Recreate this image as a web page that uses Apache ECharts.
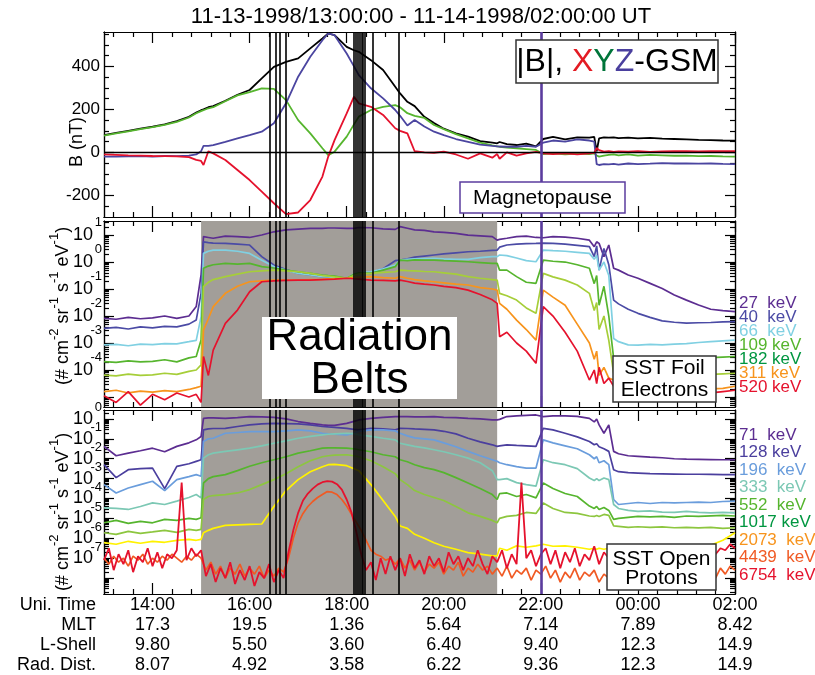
<!DOCTYPE html>
<html><head><meta charset="utf-8">
<script src="https://cdn.jsdelivr.net/npm/echarts@6/dist/echarts.min.js"></script>
<style>html,body{margin:0;padding:0;background:#fff}#c{width:815px;height:675px}</style>
</head><body><div id="c"></div>
<script>
const FONT = '"Liberation Sans", Arial, sans-serif';
// ---- time grids (hours after 11-13 00:00; 24+ = next day) ----
const T = [13.0,13.25,13.5,13.75,14.0,14.25,14.5,14.75,14.9,15.0,
15.05,15.15,15.25,15.5,15.75,16.0,16.25,16.5,16.75,17.0,
17.25,17.5,17.62,17.75,18.0,18.15,18.25,18.5,18.75,19.0,
19.1,19.25,19.4,19.6,19.8,20.0,20.25,20.5,20.75,21.0,
21.1,21.15,21.3,21.5,21.7,21.9,22.05,22.25,22.5,22.75,
23.0,23.1,23.15,23.2,23.3,23.4,23.5,23.6,23.8,24.0,
24.25,24.5,24.75,25.0,25.25,25.5,25.75,26.0];
const TF = [13.0,13.1,13.2,13.3,13.4,13.5,13.6,13.7,13.8,13.9,
14.0,14.1,14.2,14.3,14.4,14.5,14.6,14.7,14.8,14.9,
15.0,15.1,15.2,15.3,15.4,15.5,15.6,15.7,15.8,15.9,
16.0,16.1,16.2,16.3,16.4,16.5,16.6,16.7,16.8,16.9,
17.0,17.1,17.2,17.3,17.4,17.5,17.6,17.7,17.8,17.9,
18.0,18.1,18.2,18.3,18.4,18.5,18.6,18.7,18.8,18.9,
19.0,19.1,19.2,19.3,19.4,19.5,19.6,19.7,19.8,19.9,
20.0,20.1,20.2,20.3,20.4,20.5,20.6,20.7,20.8,20.9,
21.0,21.1,21.2,21.3,21.4,21.5,21.6,21.7,21.8,21.9,
22.0,22.1,22.2,22.3,22.4,22.5,22.6,22.7,22.8,22.9,
23.0,23.1,23.2,23.3,23.4,23.5,23.6,23.7,23.8,23.9,
24.0,24.1,24.2,24.3,24.4,24.5,24.6,24.7,24.8,24.9,
25.0,25.1,25.2,25.3,25.4,25.5,25.6,25.7,25.8,25.9,
26.0];

// ---- magnetic field (nT) ----
const B_MAG = [80,90,100,110,119,130,145,165,185,196,
200,210,215,240,268,290,344,398,421,437,
484,530,553,545,491,475,468,429,383,305,
274,235,215,165,136,110,88,73,52,45,
42,48,38,34,40,28,62,72,60,70,
68,72,5,65,70,68,70,66,68,65,
67,64,62,60,58,57,55,54];
const B_X = [-10,-12,-14,-15,-17,-18,-19,-22,-35,-40,
-59,5,-5,-36,-82,-129,-183,-237,-288,-280,
-222,-113,-20,57,181,259,228,212,174,112,
100,88,5,0,-2,3,-10,-30,-5,-25,
-8,-30,0,-15,-5,2,-5,-8,-5,-10,
-5,-3,20,10,3,5,2,4,3,5,
2,4,6,5,4,6,5,5];
const B_Y = [78,88,98,108,117,128,142,162,182,192,
196,205,210,238,265,280,298,295,243,150,
88,19,-13,3,73,130,166,197,212,220,
210,182,170,160,127,108,85,65,45,32,
28,26,22,19,15,11,-8,-5,-10,-6,
-8,-5,-15,-20,-15,-12,-10,-14,-10,-15,
-12,-14,-16,-15,-18,-17,-19,-20];
const B_Z = [-20,-20,-19,-18,-20,-17,-18,-15,-10,5,
30,30,34,49,65,80,96,135,228,352,
445,522,553,545,460,400,359,298,251,197,
170,125,150,120,96,80,62,49,36,30,
28,27,26,26,30,26,45,55,50,60,
55,50,-55,-59,-55,-56,-54,-57,-52,-55,
-53,-50,-52,-51,-53,-52,-54,-55];

// ---- SST foil electrons, log10 flux ----
const E27 = [-2.09,-2.12,-2.05,-2.10,-2.07,-2.00,-2.09,-2.00,-1.65,-0.48,
0.94,0.91,0.88,0.96,0.94,0.91,1.00,1.12,1.19,1.22,
1.25,1.25,1.26,1.26,1.25,1.25,1.28,1.27,1.23,1.21,
1.31,1.25,1.19,1.17,1.12,1.10,1.06,1.00,0.97,0.94,
0.81,0.84,0.88,0.94,0.96,0.91,0.90,0.94,0.92,0.88,
0.81,0.57,0.75,0.69,0.20,0.63,-0.23,-0.30,-0.48,-0.60,
-0.79,-0.98,-1.22,-1.41,-1.59,-1.75,-1.80,-1.84];
const E40 = [-2.46,-2.42,-2.48,-2.40,-2.44,-2.38,-2.40,-2.30,-2.15,-1.16,
0.75,0.72,0.70,0.69,0.66,0.63,0.20,-0.11,-0.28,-0.42,
-0.48,-0.54,-0.56,-0.58,-0.60,-0.50,-0.42,-0.40,-0.25,0.05,
0.07,0.12,0.18,0.22,0.26,0.30,0.34,0.38,0.40,0.43,
0.44,0.55,0.63,0.66,0.68,0.69,0.70,0.69,0.66,0.62,
0.57,0.20,0.60,-0.30,0.50,-0.10,-1.41,-1.55,-1.75,-1.90,
-2.05,-2.18,-2.23,-2.26,-2.25,-2.24,-2.22,-2.21];
const E66 = [-3.07,-3.05,-3.10,-3.04,-3.06,-3.02,-3.03,-2.95,-2.90,-2.02,
0.32,0.40,0.44,0.44,0.40,0.32,0.07,-0.17,-0.30,-0.42,
-0.48,-0.54,-0.55,-0.57,-0.60,-0.45,-0.40,-0.36,-0.25,-0.11,
0.07,0.10,0.12,0.13,0.14,0.12,0.10,0.10,0.16,0.20,
0.20,0.26,0.24,0.15,0.05,0.01,0.44,0.42,0.40,0.36,
0.32,0.10,0.25,-0.30,0.00,-0.50,-2.83,-2.95,-3.07,-3.08,
-3.05,-3.07,-3.04,-3.02,-2.98,-2.95,-2.92,-2.89];
const E109 = [-3.69,-3.72,-3.66,-3.70,-3.68,-3.62,-3.70,-3.55,-3.50,-2.89,
-0.23,-0.15,-0.10,-0.05,-0.08,-0.05,-0.17,-0.22,-0.30,-0.36,
-0.42,-0.48,-0.50,-0.52,-0.60,-0.45,-0.40,-0.42,-0.30,-0.17,
0.07,0.05,0.08,0.07,0.07,0.05,0.03,0.01,-0.02,-0.05,
-0.05,-0.30,-0.30,-0.54,-0.75,-0.79,0.07,0.03,0.00,-0.10,
-0.23,-0.80,-0.50,-1.60,-0.90,-2.00,-3.57,-3.62,-3.65,-3.63,
-3.62,-3.60,-3.58,-3.57,-3.55,-3.54,-3.52,-3.50];
const E182 = [-4.19,-4.22,-4.15,-4.20,-4.18,-4.12,-4.16,-4.05,-4.00,-3.81,
-0.91,-0.75,-0.65,-0.54,-0.45,-0.36,-0.33,-0.30,-0.33,-0.36,
-0.42,-0.50,-0.52,-0.55,-0.60,-0.50,-0.45,-0.42,-0.38,-0.36,
-0.30,-0.32,-0.33,-0.35,-0.36,-0.40,-0.45,-0.54,-0.60,-0.65,
-0.67,-1.16,-1.25,-1.41,-1.70,-1.90,-0.42,-0.55,-0.67,-0.85,
-1.16,-1.80,-1.50,-2.50,-2.00,-2.90,-4.12,-4.18,-4.20,-4.22,
-4.20,-4.21,-4.18,-4.17,-4.15,-4.16,-4.14,-4.12];
const E311 = [-4.80,-4.75,-4.85,-4.78,-4.82,-4.76,-4.80,-4.72,-4.65,-4.60,
-2.52,-2.10,-1.65,-1.16,-0.90,-0.73,-0.70,-0.67,-0.67,-0.67,
-0.65,-0.64,-0.62,-0.62,-0.60,-0.58,-0.56,-0.54,-0.58,-0.60,
-0.54,-0.60,-0.65,-0.70,-0.73,-0.77,-0.82,-0.85,-0.95,-1.00,
-1.04,-1.53,-1.75,-2.15,-2.50,-2.89,-1.04,-1.30,-1.60,-2.30,
-3.00,-3.60,-3.30,-4.20,-3.90,-4.30,-4.37,-4.60,-4.80,-4.78,
-4.82,-4.80,-4.78,-4.80,-4.76,-4.70,-4.68,-4.60];
const E520 = [-4.95,-5.20,-4.80,-5.30,-4.90,-5.10,-4.85,-5.00,-4.90,-5.20,
-3.50,-4.20,-3.26,-2.27,-1.78,-1.10,-0.73,-0.70,-0.68,-0.67,
-0.67,-0.65,-0.64,-0.63,-0.60,-0.62,-0.63,-0.67,-0.68,-0.70,
-0.67,-0.72,-0.78,-0.82,-0.85,-0.90,-0.95,-1.04,-1.20,-1.40,
-1.53,-2.77,-2.60,-3.00,-3.30,-3.75,-1.65,-2.00,-2.60,-3.30,
-4.37,-4.00,-4.50,-3.90,-4.50,-4.30,-4.60,-4.90,-5.00,-4.95,
-5.05,-4.98,-5.00,-4.95,-4.90,-4.85,-4.80,-4.75];

// ---- SST open protons, log10 flux ----
const P71 = [-1.38,-1.85,-1.72,-1.60,-1.47,-1.65,-1.38,-1.20,-1.05,-0.88,
0.03,0.05,0.05,0.03,0.07,0.12,0.10,0.08,0.00,-0.13,
-0.22,-0.30,-0.32,-0.32,-0.22,-0.12,-0.05,0.03,0.08,0.12,
0.12,0.12,0.10,0.10,0.12,0.08,0.07,0.03,0.00,-0.05,
-0.05,-0.02,0.12,0.15,0.18,0.20,0.12,0.15,0.15,0.13,
0.03,-0.15,0.00,-0.30,-0.72,-0.30,-1.63,-1.75,-1.85,-1.88,
-1.92,-1.95,-2.00,-2.02,-2.03,-2.04,-2.05,-2.05];
const P128 = [-2.30,-2.95,-2.55,-2.50,-2.47,-3.50,-2.38,-2.25,-2.13,-2.05,
-0.55,-0.50,-0.48,-0.47,-0.38,-0.30,-0.25,-0.22,-0.23,-0.25,
-0.30,-0.38,-0.40,-0.42,-0.47,-0.52,-0.55,-0.47,-0.50,-0.55,
-0.47,-0.48,-0.50,-0.52,-0.55,-0.62,-0.75,-0.97,-1.15,-1.30,
-1.38,-1.35,-1.30,-1.33,-1.35,-1.38,-0.47,-0.55,-0.72,-0.90,
-1.13,-1.30,-1.25,-1.40,-1.50,-1.63,-2.55,-2.65,-2.70,-2.72,
-2.75,-2.76,-2.77,-2.78,-2.78,-2.79,-2.80,-2.80];
const P196 = [-3.30,-3.72,-3.47,-3.30,-3.13,-3.60,-3.05,-2.90,-2.80,-2.88,
-1.13,-1.00,-0.97,-0.72,-0.68,-0.64,-0.64,-0.64,-0.60,-0.55,
-0.60,-0.72,-0.75,-0.77,-0.80,-0.72,-0.62,-0.55,-0.55,-0.60,
-0.72,-0.85,-0.95,-1.00,-1.05,-1.20,-1.40,-1.63,-1.85,-2.05,
-2.13,-2.20,-2.30,-2.40,-2.47,-2.47,-1.05,-1.20,-1.35,-1.50,
-1.80,-2.00,-1.90,-2.20,-2.10,-2.30,-4.05,-4.30,-4.25,-4.20,
-4.25,-4.20,-4.22,-4.20,-4.18,-4.20,-4.15,-4.13];
const P333 = [-4.47,-4.50,-4.55,-4.40,-4.22,-4.30,-4.13,-3.95,-3.80,-3.97,
-1.97,-1.80,-1.72,-1.63,-1.55,-1.47,-1.35,-1.22,-1.10,-0.97,
-0.88,-0.80,-0.77,-0.75,-0.72,-0.74,-0.80,-0.88,-0.97,-1.05,
-1.22,-1.30,-1.38,-1.45,-1.55,-1.65,-1.80,-1.97,-2.20,-2.60,
-3.05,-3.05,-3.00,-3.20,-3.30,-3.38,-2.05,-2.20,-2.30,-2.50,
-2.97,-3.10,-3.00,-3.10,-2.97,-3.05,-4.30,-4.50,-4.60,-4.65,
-4.62,-4.68,-4.70,-4.65,-4.70,-4.72,-4.70,-4.72];
const P552 = [-5.22,-5.10,-5.25,-5.15,-5.22,-5.05,-5.10,-5.00,-5.05,-4.97,
-3.22,-3.00,-2.90,-2.80,-2.60,-2.38,-2.20,-2.05,-1.90,-1.72,
-1.60,-1.47,-1.45,-1.45,-1.47,-1.50,-1.55,-1.65,-1.80,-1.90,
-2.05,-2.15,-2.30,-2.45,-2.55,-2.70,-2.95,-3.22,-3.50,-3.80,
-4.05,-3.75,-3.72,-3.90,-3.80,-3.97,-3.22,-3.50,-3.75,-3.90,
-4.38,-4.50,-4.40,-4.55,-4.45,-4.60,-5.05,-5.00,-4.95,-4.90,
-4.92,-4.90,-4.95,-4.88,-4.90,-4.87,-4.85,-4.88];
const P1017 = [-5.72,-5.80,-5.65,-5.75,-5.68,-5.60,-5.70,-5.55,-5.60,-5.55,
-4.05,-3.90,-3.85,-3.80,-3.72,-3.55,-3.30,-3.05,-2.75,-2.40,
-2.10,-1.90,-1.85,-1.82,-1.80,-1.85,-1.90,-2.10,-2.40,-2.75,
-3.05,-3.30,-3.60,-3.80,-3.95,-4.10,-4.40,-4.72,-4.90,-5.10,
-5.22,-5.00,-4.90,-4.85,-4.70,-4.75,-4.22,-4.50,-4.70,-4.75,
-4.88,-4.90,-4.85,-4.90,-4.80,-4.85,-5.38,-5.40,-5.45,-5.42,
-5.45,-5.43,-5.47,-5.45,-5.48,-5.45,-5.50,-5.47];
const P2073 = [-6.22,-6.30,-6.15,-6.25,-6.15,-6.20,-6.10,-6.05,-6.10,-6.05,
-5.72,-5.60,-5.50,-5.35,-5.32,-5.30,-5.28,-4.40,-3.60,-3.05,
-2.65,-2.40,-2.30,-2.28,-2.35,-2.50,-2.60,-3.30,-4.10,-4.90,
-5.38,-5.50,-5.80,-6.00,-6.22,-6.40,-6.55,-6.72,-6.80,-6.88,
-6.88,-6.50,-6.60,-6.38,-6.45,-6.38,-6.30,-6.40,-6.38,-6.45,
-6.55,-6.50,-6.55,-6.50,-6.55,-6.50,-6.55,-6.50,-6.45,-6.50,
-6.45,-6.47,-6.45,-6.42,-6.40,-6.35,-6.10,-5.72];
const P4439 = [-7.0,-7.3,-6.9,-7.2,-7.0,-7.4,-6.9,-7.1,-6.8,-7.3,
-7.0,-7.2,-6.9,-7.1,-6.8,-7.0,-7.2,-6.9,-7.1,-6.8,
-7.0,-7.6,-7.2,-7.8,-7.4,-8.0,-7.5,-7.8,-7.3,-7.9,
-7.5,-7.8,-7.4,-8.0,-7.6,-7.9,-7.5,-7.7,-7.0,-6.0,
-5.22,-4.75,-4.4,-4.15,-3.95,-3.8,-3.65,-3.68,-3.8,-4.05,
-4.38,-4.8,-5.2,-5.6,-6.1,-6.6,-6.8,-6.9,-7.1,-7.0,
-7.3,-7.0,-7.5,-7.1,-7.6,-7.2,-7.7,-7.3,-7.5,-7.2,
-7.8,-7.4,-7.6,-7.2,-7.9,-7.5,-7.7,-7.3,-7.6,-7.4,
-7.8,-7.5,-7.9,-7.4,-8.0,-7.6,-7.8,-7.5,-8.1,-7.6,
-7.8,-7.4,-8.0,-7.6,-8.2,-7.7,-8.0,-7.5,-8.1,-7.7,
-7.9,-7.6,-8.2,-7.8,-8.0,-7.7,-8.3,-7.8,-8.0,-7.6,
-8.1,-7.8,-8.0,-7.7,-8.2,-7.8,-8.0,-7.6,-7.9,-7.7,
-8.0,-7.8,-8.1,-7.7,-7.9,-7.6,-8.0,-7.5,-7.8,-7.4,
-7.6];
const P6754 = [-7.1,-6.5,-7.6,-6.8,-7.3,-6.6,-7.7,-6.9,-7.2,-6.5,
-7.4,-6.7,-7.5,-6.8,-7.0,-6.6,-3.2,-7.1,-6.5,-6.9,
-6.6,-7.9,-7.3,-8.2,-7.5,-8.0,-7.2,-8.3,-7.6,-8.1,
-7.4,-8.4,-7.7,-8.0,-7.3,-8.2,-7.6,-8.0,-6.7,-5.6,
-4.72,-4.1,-3.75,-3.5,-3.3,-3.18,-3.13,-3.15,-3.28,-3.55,
-4.05,-4.7,-5.7,-6.8,-7.6,-7.2,-8.1,-7.0,-7.8,-6.9,
-7.6,-7.0,-7.9,-6.8,-7.5,-7.1,-7.8,-6.9,-7.4,-7.0,
-7.7,-6.7,-7.3,-6.9,-7.6,-7.0,-7.4,-6.6,-7.3,-7.8,
-6.9,-7.2,-6.6,-7.5,-6.8,-7.3,-3.2,-7.0,-6.6,-7.4,
-6.8,-6.5,-7.3,-6.6,-7.5,-6.7,-7.2,-6.5,-7.4,-6.8,
-7.1,-6.4,-7.3,-6.7,-7.0,-6.5,-7.2,-6.6,-7.1,-6.7,
-6.9,-6.5,-7.0,-6.6,-6.9,-6.5,-6.8,-6.4,-6.9,-6.6,
-6.8,-6.5,-6.9,-6.5,-6.7,-6.4,-6.8,-6.5,-6.6,-6.3,
-6.5];

// ---- events / labels ----
const BELT_START = 15.0, BELT_END = 21.1;
const MAGNETOPAUSE = 22.0;
const VLINES = [16.41,16.53,16.63,16.75,18.14,18.18,18.22,18.26,18.30,18.34,18.38,18.53,19.08];
const X_MAJOR = [14,16,18,20,22,24,26];
const X_MINOR = [13.2,13.6,14.4,14.8,15.2,15.6,16.4,16.8,17.2,17.6,18.4,18.8,19.2,19.6,20.4,20.8,21.2,21.6,22.4,22.8,23.2,23.6,24.4,24.8,25.2,25.6];
const UT_LAB = ['14:00','16:00','18:00','20:00','22:00','00:00','02:00'];
const MLT_LAB = ['17.3','19.5','1.36','5.64','7.14','7.89','8.42'];
const LSH_LAB = ['9.80','5.50','3.60','6.40','9.40','12.3','14.9'];
const RAD_LAB = ['8.07','4.92','3.58','6.22','9.36','12.3','14.9'];
const ROW_NAMES = ['Uni. Time','MLT','L-Shell','Rad. Dist.'];
const B_TICKS = [-200,0,200,400];
const B_MINOR = [-250,-150,-100,-50,50,100,150,250,300,350,450,500,550];
const E_MAJOR = [-5,-4,-3,-2,-1,0,1];
const E_LABELS = [-4,-3,-2,-1,0,1];
const P_MAJOR = [-8,-7,-6,-5,-4,-3,-2,-1,0];
const P_LABELS = [-7,-6,-5,-4,-3,-2,-1,0];
const E_NAMES = ['27  keV','40  keV','66  keV','109 keV','182 keV','311 keV','520 keV'];
const P_NAMES = ['71  keV','128 keV','196  keV','333  keV','552  keV','1017 keV','2073  keV','4439  keV','6754  keV'];

// ---- styling ----
const E_LINE = ['#5c2d91','#4b4ba5','#80d0e2','#56b52e','#a6ce39','#f7941d','#e5122d'];
const E_TEXT = ['#5c2d91','#4b4ba5','#80d0e2','#56b52e','#009640','#f7941d','#e5122d'];
const P_LINE = ['#5c2d91','#4b3f9e','#6a9ddc','#7cc8b4','#56b52e','#8dc63f','#fff200','#f05a24','#e5122d'];
const P_TEXT = ['#5c2d91','#4b3f9e','#6a9ddc','#7cc8b4','#56b52e','#009640','#f7941d','#f05a24','#e5122d'];
const GRAY = '#a29e99';
const MP_COLOR = '#5b3c9e';

function minorLog(lo, hi) {
  const out = [];
  for (let d = Math.floor(lo); d <= Math.ceil(hi); d++) {
    for (let k = 2; k <= 9; k++) { const v = d + Math.log10(k); if (v > lo && v < hi) out.push(v); }
  }
  return out;
}

const grids = [
  {left:104, right:80, top:32, height:185},
  {left:104, right:80, top:221, height:186},
  {left:104, right:80, top:410, height:185}
];
const AX = {color:'#000', width:1.2};
function xAxesFor(g, labels) {
  const base = {type:'value', gridIndex:g, min:13, max:26, splitLine:{show:false},
    axisLine:{show:true, onZero:false, lineStyle:AX}};
  const lab = labels ? {show:true, customValues:X_MAJOR, showMinLabel:true, showMaxLabel:true, margin:1, color:'#000', fontFamily:FONT, fontSize:18, lineHeight:20,
      formatter: v => { const i = X_MAJOR.indexOf(Math.round(v)); return i < 0 ? '' : [UT_LAB[i], MLT_LAB[i], LSH_LAB[i], RAD_LAB[i]].join('\n'); }}
    : {show:false};
  return [
    Object.assign({}, base, {position:'bottom', axisTick:{show:true, inside:true, length:11, customValues:X_MAJOR, lineStyle:AX}, axisLabel:lab}),
    Object.assign({}, base, {position:'bottom', axisTick:{show:true, inside:true, length:5, customValues:X_MINOR, lineStyle:AX}, axisLabel:{show:false}}),
    Object.assign({}, base, {position:'top', axisTick:{show:true, inside:true, length:11, customValues:X_MAJOR, lineStyle:AX}, axisLabel:{show:false}}),
    Object.assign({}, base, {position:'top', axisTick:{show:true, inside:true, length:5, customValues:X_MINOR, lineStyle:AX}, axisLabel:{show:false}})
  ];
}
// log panels: "10" labels on the major axis, exponents on the minor-tick axis placed slightly higher
function yAxesFor(g, min, max, maj, labs, minr, isLog, supShift) {
  const base = {type:'value', gridIndex:g, min, max, splitLine:{show:false},
    axisLine:{show:true, onZero:false, lineStyle:AX}};
  const lab = isLog
    ? {show:true, customValues:labs, showMinLabel:true, showMaxLabel:true, margin:11, color:'#000', fontFamily:FONT, fontSize:18, lineHeight:17, formatter: () => '10'}
    : {show:true, customValues:labs, showMinLabel:true, showMaxLabel:true, margin:4, color:'#000', fontFamily:FONT, fontSize:17, formatter: v => String(Math.round(v))};
  const supLab = isLog
    ? {show:true, customValues:labs.map(v => v + supShift).filter(v => v < max), showMinLabel:true, showMaxLabel:true, margin:2, color:'#000', fontFamily:FONT, fontSize:13, lineHeight:13,
       formatter: v => String(Math.round(v - supShift))}
    : {show:false};
  return [
    Object.assign({}, base, {position:'left', axisTick:{show:true, inside:true, length:10, customValues:maj, lineStyle:AX}, axisLabel:lab}),
    Object.assign({}, base, {position:'left', axisTick:{show:true, inside:true, length:5, customValues:minr, lineStyle:AX}, axisLabel:supLab}),
    Object.assign({}, base, {position:'right', axisTick:{show:true, inside:true, length:10, customValues:maj, lineStyle:AX}, axisLabel:{show:false}}),
    Object.assign({}, base, {position:'right', axisTick:{show:true, inside:true, length:5, customValues:minr, lineStyle:AX}, axisLabel:{show:false}})
  ];
}
const E_MIN = -5.37, E_MAX = 1.52, P_MIN = -8.8, P_MAX = 0.45;
const xAxis = [].concat(xAxesFor(0,false), xAxesFor(1,false), xAxesFor(2,true));
const yAxis = [].concat(
  yAxesFor(0, -301, 560, B_TICKS, B_TICKS, B_MINOR, false, 0),
  yAxesFor(1, E_MIN, E_MAX, E_MAJOR, E_LABELS, minorLog(E_MIN, E_MAX), true, 0.48),
  yAxesFor(2, P_MIN, P_MAX, P_MAJOR, P_LABELS, minorLog(P_MIN, P_MAX), true, 0.55)
);

function line(g, xs, ys, color, w) {
  return {type:'line', xAxisIndex:4*g, yAxisIndex:4*g, data: xs.map((t,i)=>[t, ys[i]]),
    showSymbol:false, symbol:'none', animation:false, silent:true, z:3,
    lineStyle:{color, width:w||1.6}, itemStyle:{color}};
}
function markers(g, withBelt, withZero) {
  const out = [];
  if (withBelt) out.push({type:'line', xAxisIndex:4*g, yAxisIndex:4*g, data:[], z:1, silent:true,
    markArea:{silent:true, itemStyle:{color:GRAY}, data:[[{xAxis:BELT_START},{xAxis:BELT_END}]]}});
  if (withZero) out.push({type:'line', xAxisIndex:4*g, yAxisIndex:4*g, data:[], z:2, silent:true,
    markLine:{silent:true, symbol:['none','none'], label:{show:false}, animation:false,
      lineStyle:{color:'#000', width:1.3, type:'solid'}, data:[{yAxis:0}]}});
  out.push({type:'line', xAxisIndex:4*g, yAxisIndex:4*g, data:[], z:6, silent:true,
    markLine:{silent:true, symbol:['none','none'], label:{show:false}, animation:false,
      lineStyle:{color:'#000', width:1.6, type:'solid'}, data: VLINES.map(v=>({xAxis:v}))}});
  out.push({type:'line', xAxisIndex:4*g, yAxisIndex:4*g, data:[], z:7, silent:true,
    markLine:{silent:true, symbol:['none','none'], label:{show:false}, animation:false,
      lineStyle:{color:MP_COLOR, width:2.6, type:'solid'}, data:[{xAxis:MAGNETOPAUSE}]}});
  return out;
}

const series = [].concat(
  markers(0, false, true),
  [line(0,T,B_MAG,'#000',1.8), line(0,T,B_Y,'#56b52e',1.8), line(0,T,B_Z,'#4b45a0',1.8), line(0,T,B_X,'#e5122d',1.8)],
  markers(1, true, false),
  [E27,E40,E66,E109,E182,E311,E520].map((d,i)=>line(1,T,d,E_LINE[i],1.7)),
  markers(2, true, false),
  [P71,P128,P196,P333,P552,P1017,P2073].map((d,i)=>line(2,T,d,P_LINE[i],1.7)),
  [line(2,TF,P4439,P_LINE[7],1.7), line(2,TF,P6754,P_LINE[8],1.8)]
);

const txt = (x, y, text, size, color, align, extra) => ({type:'text', x, y, z:100,
  style: Object.assign({text, fill:color||'#000', fontSize:size, fontFamily:FONT,
    align:align||'left', textAlign:align||'left', verticalAlign:'middle', textVerticalAlign:'middle'}, extra||{})});
const box = (x, y, w, h, stroke) => ({type:'rect', z:90, shape:{x, y, width:w, height:h},
  style:{fill:'#fff', stroke: stroke || 'none', lineWidth:1.5}});

const fluxRich = {
  n:{fontSize:18, fontFamily:FONT, color:'#000', lineHeight:30},
  s:{fontSize:13, fontFamily:FONT, color:'#000', lineHeight:13, verticalAlign:'top'}
};
const fluxLabel = '{n|(# cm}{s|-2}{n| sr}{s|-1}{n| s}{s|-1}{n| eV}{s|-1}{n|)}';
const graphic = [
  txt(421, 17, '11-13-1998/13:00:00 - 11-14-1998/02:00:00 UT', 22, '#000', 'center'),
  {type:'text', x:77, y:142, rotation:Math.PI/2, z:100, style:{text:'B (nT)', fontSize:18, fontFamily:FONT, fill:'#000', align:'center', textAlign:'center', verticalAlign:'middle', textVerticalAlign:'middle'}},
  {type:'text', x:63, y:306, rotation:Math.PI/2, z:100, style:{text:fluxLabel, rich:fluxRich, fill:'#000', align:'center', textAlign:'center', verticalAlign:'middle', textVerticalAlign:'middle'}},
  {type:'text', x:63, y:512, rotation:Math.PI/2, z:100, style:{text:fluxLabel, rich:fluxRich, fill:'#000', align:'center', textAlign:'center', verticalAlign:'middle', textVerticalAlign:'middle'}},
  // exponent of the top proton tick label, which sits just above the panel edge
  txt(102, 407, '0', 13, '#000', 'right'),
  {type:'text', x:96, y:595, z:100, style:{text:ROW_NAMES.join('\n'), fontSize:18, lineHeight:20, fontFamily:FONT, fill:'#000', align:'right', textAlign:'right', verticalAlign:'top', textVerticalAlign:'top'}},
  box(516, 40, 202, 43, '#333'),
  {type:'text', x:617, y:62, z:100, style:{text:'{k|\|B\|, }{r|X}{g|Y}{b|Z}{k|-GSM}', align:'center', textAlign:'center', verticalAlign:'middle', textVerticalAlign:'middle',
    rich:{k:{fontSize:32, fontFamily:FONT, fill:'#000', color:'#000'}, r:{fontSize:32, fontFamily:FONT, color:'#e31b23', fill:'#e31b23'},
          g:{fontSize:32, fontFamily:FONT, color:'#00753a', fill:'#00753a'}, b:{fontSize:32, fontFamily:FONT, color:'#4a3f9e', fill:'#4a3f9e'}}}},
  box(460, 182, 165, 31, MP_COLOR),
  txt(542.5, 198, 'Magnetopause', 21, '#000', 'center'),
  box(262, 317, 195, 82),
  txt(359.5, 338, 'Radiation', 44, '#000', 'center'),
  txt(359.5, 381, 'Belts', 44, '#000', 'center'),
  box(613, 356, 103, 46, '#333'),
  txt(664.5, 368, 'SST Foil', 21, '#000', 'center'),
  txt(664.5, 390, 'Electrons', 21, '#000', 'center'),
  box(607, 544, 109, 46, '#333'),
  txt(661.5, 559, 'SST Open', 21, '#000', 'center'),
  txt(661.5, 578, 'Protons', 21, '#000', 'center')
].concat(
  E_NAMES.map((s,i)=>txt(739, 303 + i*14.1, s, 17, E_TEXT[i], 'left')),
  P_NAMES.map((s,i)=>txt(739, 435 + i*17.5, s, 17, P_TEXT[i], 'left'))
);

const chart = echarts.init(document.getElementById('c'), null, {renderer:'canvas'});
chart.setOption({
  animation:false,
  backgroundColor:'#fff',
  textStyle:{fontFamily:FONT},
  grid: grids,
  xAxis, yAxis, series, graphic
});
</script>
</body></html>
